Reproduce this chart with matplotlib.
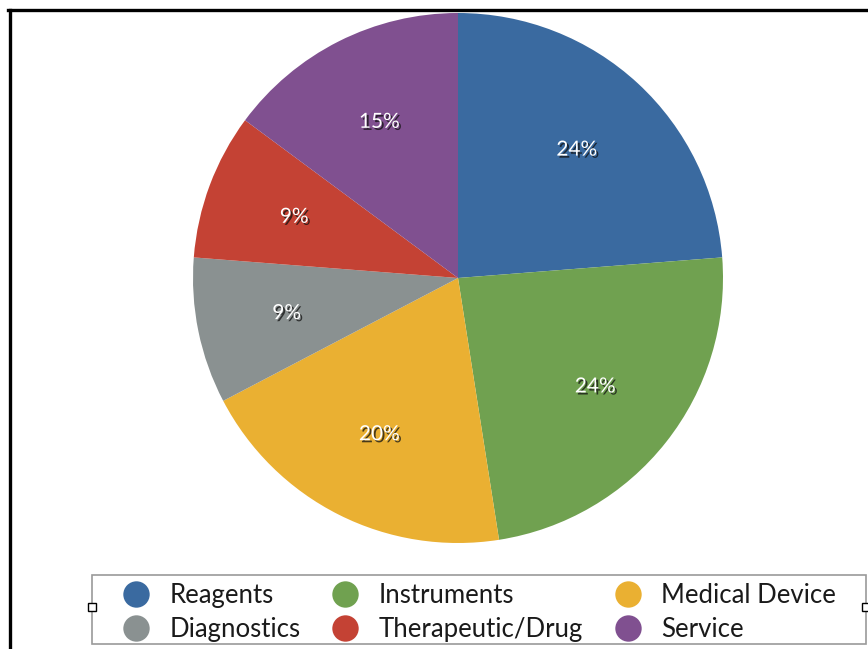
import matplotlib
matplotlib.use("Agg")
import matplotlib.pyplot as plt
import matplotlib.patheffects as pe
from matplotlib.patches import Rectangle
from matplotlib.lines import Line2D

plt.rcParams['font.family'] = ['Lato', 'DejaVu Sans']

categories = ["Reagents", "Instruments", "Medical Device",
              "Diagnostics", "Therapeutic/Drug", "Service"]
shares = [24, 24, 20, 9, 9, 15]
colors = ["#3A6AA0", "#70A150", "#EAB032", "#8A9191", "#C44234", "#805090"]

W, H = 868, 649
fig = plt.figure(figsize=(W / 100, H / 100), dpi=100)

# pie axes: square box, centre (458, 278) px, radius 265 px
cx, cy, r = 458, 278, 265
ax = fig.add_axes([(cx - r) / W, (H - cy - r) / H, 2 * r / W, 2 * r / H])
wedges, texts, autotexts = ax.pie(
    shares, colors=colors, startangle=90, counterclock=False,
    autopct=lambda p: f"{p * sum(shares) / 100:.0f}%",
    pctdistance=0.66, radius=1.0,
    wedgeprops=dict(linewidth=0))
ax.set_xlim(-1, 1)
ax.set_ylim(-1, 1)
ax.set_aspect('equal')
ax.axis('off')

for t in autotexts:
    t.set_color('white')
    t.set_fontsize(15)
    t.set_path_effects([
        pe.withSimplePatchShadow(offset=(1.5, -1.5), shadow_rgbFace='#111111', alpha=0.75),
    ])

# legend: row 1 Reagents / Instruments / Medical Device, row 2 the rest
order = [0, 3, 1, 4, 2, 5]
handles = [Line2D([], [], marker='o', linestyle='none', markersize=19,
                  markerfacecolor=colors[i], markeredgewidth=0) for i in order]
labels = [categories[i] for i in order]
leg = fig.legend(handles, labels, ncol=3, loc='center',
                 bbox_to_anchor=(479 / W, 1 - 612.5 / H),
                 fontsize=18.5, frameon=False,
                 handlelength=1.1, handletextpad=0.75,
                 columnspacing=1.2, labelspacing=0.33, borderpad=0.0,
                 borderaxespad=0)
for txt in leg.get_texts():
    txt.set_color('#1a1a1a')

# legend box
fig.add_artist(Rectangle((92 / W, 1 - 644 / H), (866 - 92) / W, (644 - 575) / H,
                         transform=fig.transFigure, facecolor='none',
                         edgecolor='#9a9a9a', linewidth=1.2, zorder=4))

# selection handles on the legend box edges
for hx in (92, 866):
    fig.add_artist(Rectangle(((hx - 4) / W, 1 - (607 + 4) / H), 8 / W, 8 / H,
                             transform=fig.transFigure, facecolor='white',
                             edgecolor='black', linewidth=1, zorder=5))

# outer frame lines (left and top)
fig.add_artist(Line2D([9.5 / W, 9.5 / W], [0, 1 - 9.5 / H], transform=fig.transFigure,
                      color='black', linewidth=2.4))
fig.add_artist(Line2D([8.3 / W, 1], [1 - 9.5 / H, 1 - 9.5 / H], transform=fig.transFigure,
                      color='black', linewidth=2.4))

fig.savefig("out.png", dpi=100)
